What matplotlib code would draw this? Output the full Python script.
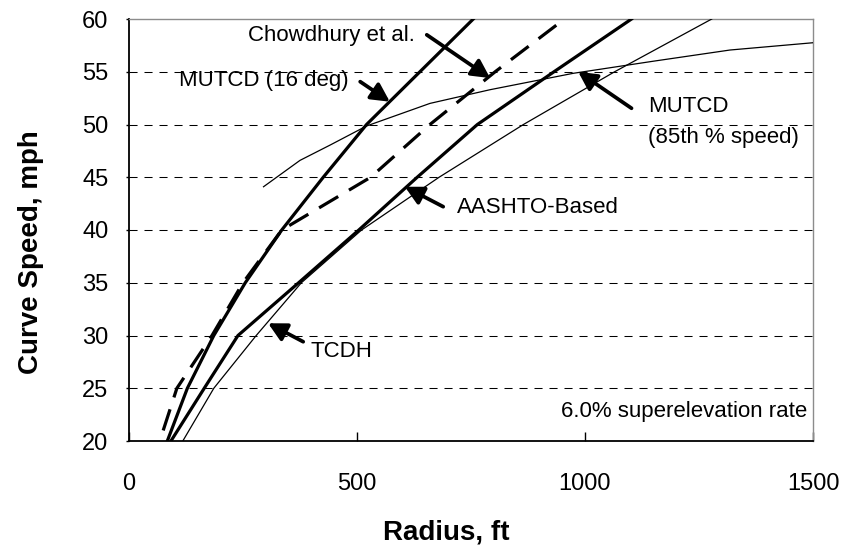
import matplotlib
matplotlib.use("Agg")
import matplotlib.pyplot as plt

plt.rcParams['font.family'] = ['Liberation Sans', 'DejaVu Sans']
plt.rcParams['lines.scale_dashes'] = False

# ---- data ----
speed = [20, 25, 30, 35, 40, 45, 50, 55, 60]
r_mutcd16 = [84, 128, 186, 255, 335, 426, 521, 638, 755]
r_aashto = [92, 165, 239, 372, 504, 632, 764, 932, 1102]
r_tcdh = [118, 186, 279, 378, 510, 680, 865, 1065, 1278]

speed_chow = [21, 25, 30, 35, 40, 45, 50, 55, 60]
r_chow = [75, 105, 182, 250, 335, 530, 660, 803, 955]

r_mutcd85 = [295, 375, 441, 521, 660, 792, 974, 1150, 1318, 1500]
v_mutcd85 = [44.1, 46.6, 48.05, 49.86, 52.0, 53.3, 54.85, 56.0, 57.06, 57.75]

x_ticks = [0, 500, 1000, 1500]
y_ticks = [20, 25, 30, 35, 40, 45, 50, 55, 60]
grid_speeds = [25, 30, 35, 40, 45, 50, 55]

W, H = 844, 553
fig = plt.figure(figsize=(W / 100, H / 100), dpi=100)
ax = fig.add_axes([129 / W, 1 - 441 / H, (813 - 129) / W, (441 - 19) / H])
ax.set_xlim(0, 1500)
ax.set_ylim(20, 60)

for g in grid_speeds:
    ax.axhline(g, color='black', lw=0.75, linestyle=(0, (5.8, 5.0)), zorder=1)

thick = 2.3
thin = 0.9
ax.plot(r_mutcd16, speed, color='black', lw=thick, zorder=3)
ax.plot(r_aashto, speed, color='black', lw=thick, zorder=3)
ax.plot(r_tcdh, speed, color='black', lw=thin, zorder=3)
ax.plot(r_chow, speed_chow, color='black', lw=thick, linestyle=(0, (16, 9)),
        dash_capstyle='butt', zorder=3)
ax.plot(r_mutcd85, v_mutcd85, color='black', lw=thin, zorder=3)

ax.set_xticks(x_ticks)
ax.set_yticks(y_ticks)
ax.tick_params(axis='x', direction='in', length=6.5, width=1, pad=23, labelsize=17)
ax.tick_params(axis='y', direction='out', length=2.2, width=1, pad=12.7, labelsize=17)
ax.tick_params(top=False, right=False)

for side in ['left', 'bottom']:
    ax.spines[side].set_color('black')
    ax.spines[side].set_linewidth(1.3)
for side in ['top', 'right']:
    ax.spines[side].set_color('#8c8c8c')
    ax.spines[side].set_linewidth(1.0)

fs = 16
ax.text(627, 58.48, 'Chowdhury et al.', fontsize=fs, ha='right', va='center')
ax.text(482.5, 54.17, 'MUTCD (16 deg)', fontsize=fs, ha='right', va='center')
ax.text(1138, 51.71, 'MUTCD', fontsize=fs, ha='left', va='center')
ax.text(1138, 48.77, '(85th % speed)', fontsize=fs, ha='left', va='center')
ax.text(719, 42.09, 'AASHTO-Based', fontsize=fs, ha='left', va='center')
ax.text(399, 28.46, 'TCDH', fontsize=fs, ha='left', va='center')
ax.text(1487, 22.78, '6.0% superelevation rate', fontsize=fs, ha='right', va='center')

arrow_kw = dict(arrowstyle='-|>,head_length=0.5,head_width=0.26', lw=2.7,
                color='black', shrinkA=0, shrinkB=0, mutation_scale=22)
arrows = [((792, 54.4), (653, 58.5)),
          ((572, 52.16), (507, 54.06)),
          ((985, 55.0), (1102, 51.54)),
          ((605, 44.1), (689, 42.21)),
          ((305, 31.16), (382, 29.41))]
for tip, start in arrows:
    ax.annotate('', xy=tip, xytext=start, arrowprops=arrow_kw, zorder=5)

fig.text(446 / W, 1 - 532.7 / H, 'Radius, ft', fontsize=20, fontweight='bold',
         ha='center', va='center')
fig.text(31 / W, 1 - 252.5 / H, 'Curve Speed, mph', fontsize=20, fontweight='bold',
         ha='center', va='center', rotation=90)

fig.savefig('out.png', dpi=100)
